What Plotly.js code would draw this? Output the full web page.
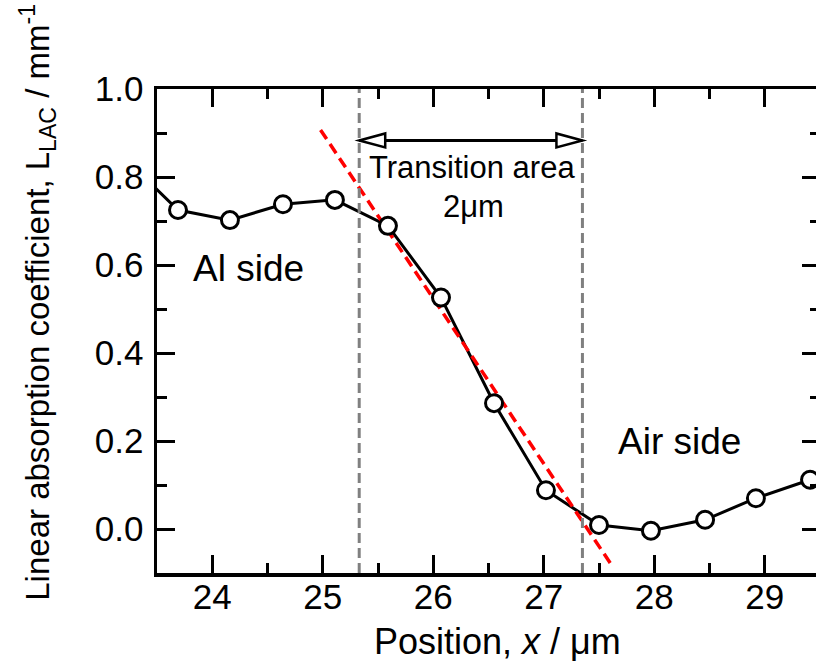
<!DOCTYPE html>
<html>
<head>
<meta charset="utf-8">
<script src="https://cdn.plot.ly/plotly-3.0.1.min.js"></script>
<style>
  html, body { margin: 0; padding: 0; overflow: hidden; background: #fff; }
  #chart { width: 840px; height: 668px; }
</style>
</head>
<body>
<div id="chart"></div>
<script>
// Measured profile of the linear absorption coefficient across the Al / air interface
const positionUm = [23.22, 23.69, 24.16, 24.64, 25.11, 25.59, 26.07, 26.55, 27.02, 27.50, 27.97, 28.46, 28.92, 29.41];
const lacPerMm   = [0.840, 0.725, 0.702, 0.738, 0.748, 0.689, 0.526, 0.286, 0.088, 0.009, -0.004, 0.021, 0.070, 0.112];

// Linear fit through the transition region (end points of the fitted line)
const fitX = [24.98, 27.63];
const fitY = [0.907, -0.088];

// Boundaries of the transition area and the level of its double arrow
const transitionBounds = [25.33, 27.35];
const arrowLevel = 0.883;

// Axis ticks
const xTicks = [24, 25, 26, 27, 28, 29];
const yTicks = [0.0, 0.2, 0.4, 0.6, 0.8, 1.0];
const yTickText = ['0.0', '0.2', '0.4', '0.6', '0.8', '1.0'];

const FONT = 'Liberation Sans, Arial, Helvetica, sans-serif';

const traces = [
  { x: positionUm, y: lacPerMm, mode: 'lines', type: 'scatter',
    line: { color: '#000', width: 3 }, hoverinfo: 'skip' },
  { x: fitX, y: fitY, mode: 'lines', type: 'scatter',
    line: { color: '#ff0000', width: 3.5, dash: '11px,6px' }, hoverinfo: 'skip' },
  { x: positionUm, y: lacPerMm, mode: 'markers', type: 'scatter',
    marker: { symbol: 'circle', size: 17, color: '#fff', line: { color: '#000', width: 3 } } }
];

const axisCommon = {
  showgrid: false, zeroline: false, showline: true, linecolor: '#000', linewidth: 3.5,
  mirror: 'allticks', ticks: 'inside', tickcolor: '#000', tickwidth: 3,
  tickfont: { family: FONT, size: 35, color: '#000' }
};

const shapes = [];
transitionBounds.forEach(xb => {
  shapes.push({ type: 'line', xref: 'x', yref: 'paper', x0: xb, x1: xb, y0: 0, y1: 1,
    line: { color: '#808080', width: 3, dash: '10px,5px' }, layer: 'above' });
});
shapes.push({ type: 'line', xref: 'x', yref: 'y',
  x0: transitionBounds[0], x1: transitionBounds[1], y0: arrowLevel, y1: arrowLevel,
  line: { color: '#000', width: 3 } });
// open triangular arrow heads, sized in pixels
shapes.push({ type: 'path', xref: 'x', yref: 'y', xsizemode: 'pixel', ysizemode: 'pixel',
  xanchor: transitionBounds[0], yanchor: arrowLevel, path: 'M0,0 L26,7 L26,-7 Z',
  fillcolor: '#fff', line: { color: '#000', width: 2.5 } });
shapes.push({ type: 'path', xref: 'x', yref: 'y', xsizemode: 'pixel', ysizemode: 'pixel',
  xanchor: transitionBounds[1], yanchor: arrowLevel, path: 'M0,0 L-26,7 L-26,-7 Z',
  fillcolor: '#fff', line: { color: '#000', width: 2.5 } });

const annotations = [
  { text: 'Al side', x: 24.33, y: 0.591, xref: 'x', yref: 'y', showarrow: false,
    font: { family: FONT, size: 37, color: '#000' }, xanchor: 'center', yanchor: 'middle' },
  { text: 'Air side', x: 28.23, y: 0.199, xref: 'x', yref: 'y', showarrow: false,
    font: { family: FONT, size: 37, color: '#000' }, xanchor: 'center', yanchor: 'middle' },
  { text: 'Transition area', x: 26.355, y: 0.821, xref: 'x', yref: 'y', showarrow: false,
    font: { family: FONT, size: 31, color: '#000' }, xanchor: 'center', yanchor: 'middle' },
  { text: '2μm', x: 26.36, y: 0.733, xref: 'x', yref: 'y', showarrow: false,
    font: { family: FONT, size: 31, color: '#000' }, xanchor: 'center', yanchor: 'middle' },
  { text: 'Position, <i>x</i> / μm', x: 0.5136, y: -0.1405, xref: 'paper', yref: 'paper',
    showarrow: false, font: { family: FONT, size: 36, color: '#000' },
    xanchor: 'center', yanchor: 'middle' },
  { text: 'Linear absorption coefficient, L<sub>LAC</sub> / mm<sup>-1</sup>',
    x: -0.1798, y: 0.56, xref: 'paper', yref: 'paper', textangle: -90, showarrow: false,
    font: { family: FONT, size: 33, color: '#000' }, xanchor: 'center', yanchor: 'middle' }
];

const layout = {
  width: 840, height: 668,
  margin: { l: 157, r: 20, t: 89, b: 95 },
  paper_bgcolor: '#fff', plot_bgcolor: '#fff',
  showlegend: false,
  xaxis: Object.assign({}, axisCommon, {
    range: [23.5, 29.5], tickvals: xTicks, ticklen: 18, ticklabelstandoff: -10,
    minor: { dtick: 0.5, ticklen: 10, tickwidth: 3, tickcolor: '#000', ticks: 'inside' }
  }),
  yaxis: Object.assign({}, axisCommon, {
    range: [-0.1, 1.0], tickvals: yTicks, ticktext: yTickText, ticklen: 18, ticklabelstandoff: 3,
    minor: { dtick: 0.1, ticklen: 10, tickwidth: 3, tickcolor: '#000', ticks: 'inside' }
  }),
  shapes: shapes,
  annotations: annotations
};

Plotly.newPlot('chart', traces, layout, { displayModeBar: false, staticPlot: true });
</script>
</body>
</html>
